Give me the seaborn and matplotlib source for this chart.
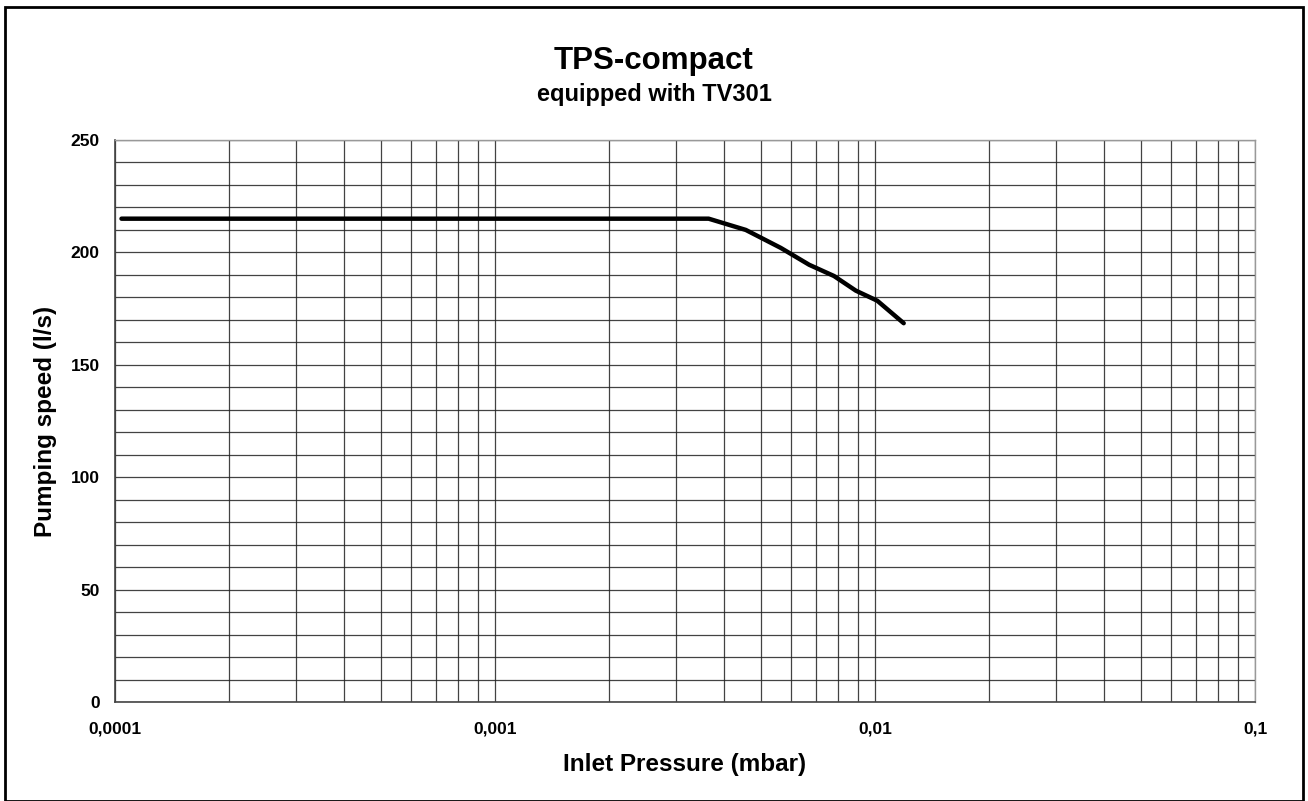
import numpy as np
import pandas as pd
import matplotlib
matplotlib.use("Agg")
import matplotlib.pyplot as plt
from matplotlib.patches import Rectangle
import seaborn as sns

# curve
pressure = [0.000104, 0.00365, 0.00457, 0.00565, 0.00671, 0.0078, 0.0089, 0.01014, 0.0119]
speed = [215, 215, 210, 202, 194.5, 189.5, 183, 178.5, 168.5]

x_ticks = [0.0001, 0.001, 0.01, 0.1]
x_tick_labels = ["0,0001", "0,001", "0,01", "0,1"]
y_ticks = [0, 50, 100, 150, 200, 250]

sns.set_style("white")
plt.rcParams['font.family'] = ['Liberation Sans', 'DejaVu Sans']
plt.rcParams['font.weight'] = 'bold'
plt.rcParams['text.color'] = 'black'
plt.rcParams['axes.labelcolor'] = 'black'
plt.rcParams['xtick.labelcolor'] = 'black'
plt.rcParams['ytick.labelcolor'] = 'black'

df = pd.DataFrame({"pressure": pressure, "speed": speed})

fig = plt.figure(figsize=(13.08, 8.01), dpi=100)
ax = fig.add_axes([115 / 1308, 1 - 702 / 801, 1140 / 1308, 562 / 801])

sns.lineplot(data=df, x="pressure", y="speed", ax=ax, color="black",
             linewidth=3.2, solid_capstyle="round", solid_joinstyle="round",
             sort=False, zorder=5)

ax.set_xscale("log")
ax.set_xlim(0.0001, 0.1)
ax.set_ylim(0, 250)

ax.set_xticks(x_ticks)
ax.set_xticklabels(x_tick_labels)
minor_x = [m * d for d in [0.0001, 0.001, 0.01] for m in range(2, 10)]
ax.set_xticks(minor_x, minor=True)
ax.set_yticks(y_ticks)
ax.set_yticks(range(0, 251, 10), minor=True)

ax.tick_params(axis="x", which="major", direction="out", length=5, width=1,
               color="#333333", labelsize=12.5, labelcolor="black", pad=9)
ax.tick_params(axis="y", which="major", direction="out", length=6, width=1,
               color="#333333", labelsize=12.5, labelcolor="black", pad=5)
ax.tick_params(which="minor", length=0)

ax.grid(True, which="both", color="#222222", linewidth=0.9, alpha=0.85)

for side in ["top", "right"]:
    ax.spines[side].set_color("#999999")
    ax.spines[side].set_linewidth(1)
for side in ["left", "bottom"]:
    ax.spines[side].set_color("#444444")
    ax.spines[side].set_linewidth(1.2)

ax.set_xlabel("Inlet Pressure (mbar)", fontsize=17.5, fontweight="bold",
              color="black", labelpad=12)
ax.set_ylabel("Pumping speed (l/s)", fontsize=17.5, fontweight="bold",
              color="black", labelpad=10)

# titles are centred on the whole chart, not on the plot area
fig.text(0.5, 1 - 69 / 801, "TPS-compact", ha="center", va="baseline",
         fontsize=22.5, fontweight="bold", color="black")
fig.text(0.5, 1 - 101 / 801, "equipped with TV301", ha="center", va="baseline",
         fontsize=17, fontweight="bold", color="black")

# outer frame around the whole chart
fig.patches.append(Rectangle((5 / 1308, 0), 1298 / 1308, 1 - 7 / 801,
                             transform=fig.transFigure, fill=False,
                             edgecolor="black", linewidth=2))

fig.savefig("out.png", dpi=100)
